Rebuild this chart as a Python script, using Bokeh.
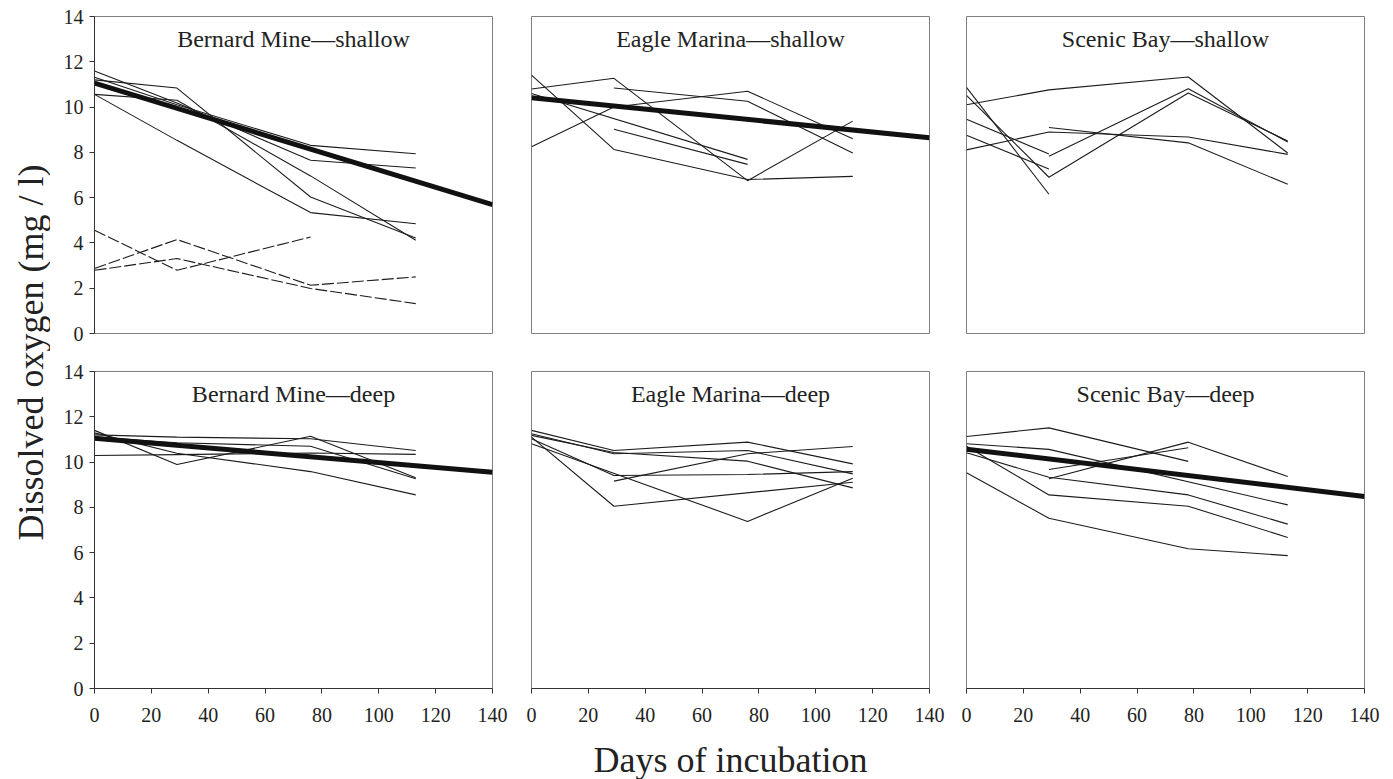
import math
from bokeh.plotting import figure
from bokeh.layouts import row, column
from bokeh.models import Range1d, FixedTicker
from bokeh.core.properties import value
from bokeh.embed import file_html
from bokeh.resources import INLINE

FONT = "Liberation Serif"

# ---------------- data ----------------
DAYS_BM = [0, 29, 76, 113]
DAYS_EM = [0, 29, 76, 113]
DAYS_SB = [0, 29, 78, 113]
TREND_DAYS = [0, 140]

X_TICKS = [0, 20, 40, 60, 80, 100, 120, 140]
Y_TICKS = [0, 2, 4, 6, 8, 10, 12, 14]

TITLES = ["Bernard Mine\u2014shallow", "Eagle Marina\u2014shallow", "Scenic Bay\u2014shallow",
          "Bernard Mine\u2014deep", "Eagle Marina\u2014deep", "Scenic Bay\u2014deep"]

bm_shallow = [
    [11.59, 10.18, 7.65, 7.31],
    [11.32, 10.10, 8.31, 7.94],
    [11.20, 10.84, 6.03, 4.22],
    [10.56, 10.30, 6.96, 4.12],
    [10.56, 8.53, 5.34, 4.85],
]
bm_shallow_dashed = [
    [4.56, 2.79, 4.26, None],
    [2.87, 4.15, 2.13, 2.50],
    [2.79, 3.31, 1.99, 1.32],
]
bm_shallow_trend = [11.06, 5.69]

em_shallow = [
    [11.41, 8.13, 6.80, 6.94],
    [10.80, 11.27, 6.75, 9.38],
    [8.25, 10.00, 10.70, 8.60],
    [None, 10.84, 10.26, 7.97],
    [10.60, None, 7.69, None],
    [None, 9.02, 7.47, None],
]
em_shallow_trend = [10.41, 8.65]

sb_shallow = [
    [10.10, 10.76, 11.33, 7.97],
    [10.87, 6.15, None, None],
    [10.52, 6.90, 10.62, 8.50],
    [9.46, 7.93, None, None],
    [8.76, 7.26, None, None],
    [8.11, 8.90, 8.68, 7.91],
    [None, 9.10, 8.42, 6.59],
    [None, 7.83, 10.81, 8.46],
]

bm_deep = [
    [11.40, 9.89, 11.14, 9.31],
    [11.20, 11.10, 11.03, 10.51],
    [10.29, 10.33, 10.40, 10.34],
    [11.29, 10.39, 9.58, 8.55],
    [11.10, 10.85, 10.70, 9.26],
]
bm_deep_trend = [11.05, 9.55]

em_deep = [
    [11.40, 10.51, 10.88, 9.92],
    [11.25, 10.37, 10.51, 9.48],
    [11.18, 10.42, 10.04, 8.86],
    [11.03, 9.41, 9.45, 9.58],
    [11.10, 8.05, None, 9.11],
    [10.81, None, 7.38, 9.29],
    [None, 9.16, 10.37, 10.69],
]

sb_deep = [
    [11.13, 11.51, 10.03, None],
    [None, 9.67, 10.63, None],
    [None, 9.26, 10.88, 9.36],
    [10.81, 10.56, None, 8.11],
    [10.41, 9.33, 8.55, 7.26],
    [10.70, 8.55, 8.05, 6.67],
    [9.53, 7.52, 6.17, 5.87],
]
sb_deep_trend = [10.57, 8.48]

# ---------------- styling ----------------
LINE_COLOR = "#1c1c1c"
AXIS_COLOR = "#333333"
FRAME_COLOR = "#808080"
TITLE_Y = 12.99


def style_axis(ax, ticks):
    ax.ticker = FixedTicker(ticks=ticks, minor_ticks=[])
    ax.major_tick_out = 5
    ax.major_tick_in = 0
    ax.minor_tick_out = 0
    ax.minor_tick_in = 0
    ax.axis_line_color = AXIS_COLOR
    ax.major_tick_line_color = AXIS_COLOR
    ax.major_label_text_font = FONT
    ax.major_label_text_font_size = "20px"
    ax.major_label_text_color = "#222222"


def panel(title, days, solid, dashed, trend, width, height, bl, br, bt, bb, show_x, show_y):
    p = figure(width=width, height=height,
               x_range=Range1d(0, 140), y_range=Range1d(0, 14),
               output_backend="svg", toolbar_location=None,
               x_axis_location="below" if show_x else None,
               y_axis_location="left" if show_y else None,
               min_border_left=bl, min_border_right=br,
               min_border_top=bt, min_border_bottom=bb)
    p.xgrid.grid_line_color = None
    p.ygrid.grid_line_color = None
    p.outline_line_color = FRAME_COLOR
    p.outline_line_width = 1
    p.background_fill_color = "white"
    p.border_fill_color = "white"
    if show_x:
        style_axis(p.xaxis[0], X_TICKS)
        p.xaxis[0].major_label_standoff = 14
    if show_y:
        style_axis(p.yaxis[0], Y_TICKS)
        p.yaxis[0].major_label_standoff = 6
    for s in solid:
        xs = [d for d, v in zip(days, s) if v is not None]
        ys = [v for v in s if v is not None]
        p.line(xs, ys, line_color=LINE_COLOR, line_width=1.1)
    for s in dashed:
        xs = [d for d, v in zip(days, s) if v is not None]
        ys = [v for v in s if v is not None]
        p.line(xs, ys, line_color=LINE_COLOR, line_width=1.1, line_dash="12 3")
    if trend is not None:
        p.line(TREND_DAYS, trend, line_color="#111111", line_width=5)
    p.text(x=[70], y=[TITLE_Y], text=[title], text_align="center",
           text_baseline="middle", text_font=value(FONT),
           text_font_size="24px", text_color="#222222")
    return p


TOP_H = 16 + 317 + 19
BOT_BORDER = 50
BOT_H = 19 + 317 + BOT_BORDER
XLAB_H = 41

p1 = panel(TITLES[0], DAYS_BM, bm_shallow, bm_shallow_dashed, bm_shallow_trend,
           461, TOP_H, 44, 19, 16, 19, False, True)
p2 = panel(TITLES[1], DAYS_EM, em_shallow, [], em_shallow_trend,
           436, TOP_H, 20, 18, 16, 19, False, False)
p3 = panel(TITLES[2], DAYS_SB, sb_shallow, [], None,
           446, TOP_H, 19, 29, 16, 19, False, False)
p4 = panel(TITLES[3], DAYS_BM, bm_deep, [], bm_deep_trend,
           461, BOT_H, 44, 19, 19, BOT_BORDER, True, True)
p5 = panel(TITLES[4], DAYS_EM, em_deep, [], None,
           436, BOT_H, 20, 18, 19, BOT_BORDER, True, False)
p6 = panel(TITLES[5], DAYS_SB, sb_deep, [], sb_deep_trend,
           446, BOT_H, 19, 29, 19, BOT_BORDER, True, False)

TOTAL_H = TOP_H + BOT_H + XLAB_H

# y-axis title strip
ylab = figure(width=50, height=TOTAL_H, x_range=Range1d(0, 50), y_range=Range1d(0, TOTAL_H),
              output_backend="svg", toolbar_location=None,
              x_axis_location=None, y_axis_location=None,
              min_border=0)
ylab.outline_line_color = None
ylab.xgrid.grid_line_color = None
ylab.ygrid.grid_line_color = None
ylab.text(x=[30], y=[TOTAL_H - 352], text=["Dissolved oxygen (mg / l)"], angle=math.pi / 2,
          text_align="center", text_baseline="middle", text_font=value(FONT),
          text_font_size="36px", text_color="#222222")

# x-axis title strip
xlab = figure(width=1343, height=XLAB_H, x_range=Range1d(0, 1343), y_range=Range1d(0, XLAB_H),
              output_backend="svg", toolbar_location=None,
              x_axis_location=None, y_axis_location=None,
              min_border=0)
xlab.outline_line_color = None
xlab.xgrid.grid_line_color = None
xlab.ygrid.grid_line_color = None
xlab.text(x=[680], y=[20], text=["Days of incubation"], text_align="center",
          text_baseline="middle", text_font=value(FONT),
          text_font_size="36px", text_color="#222222")

layout = row(ylab, column(row(p1, p2, p3), row(p4, p5, p6), xlab))

open("out.html", "w").write(file_html(layout, INLINE))
